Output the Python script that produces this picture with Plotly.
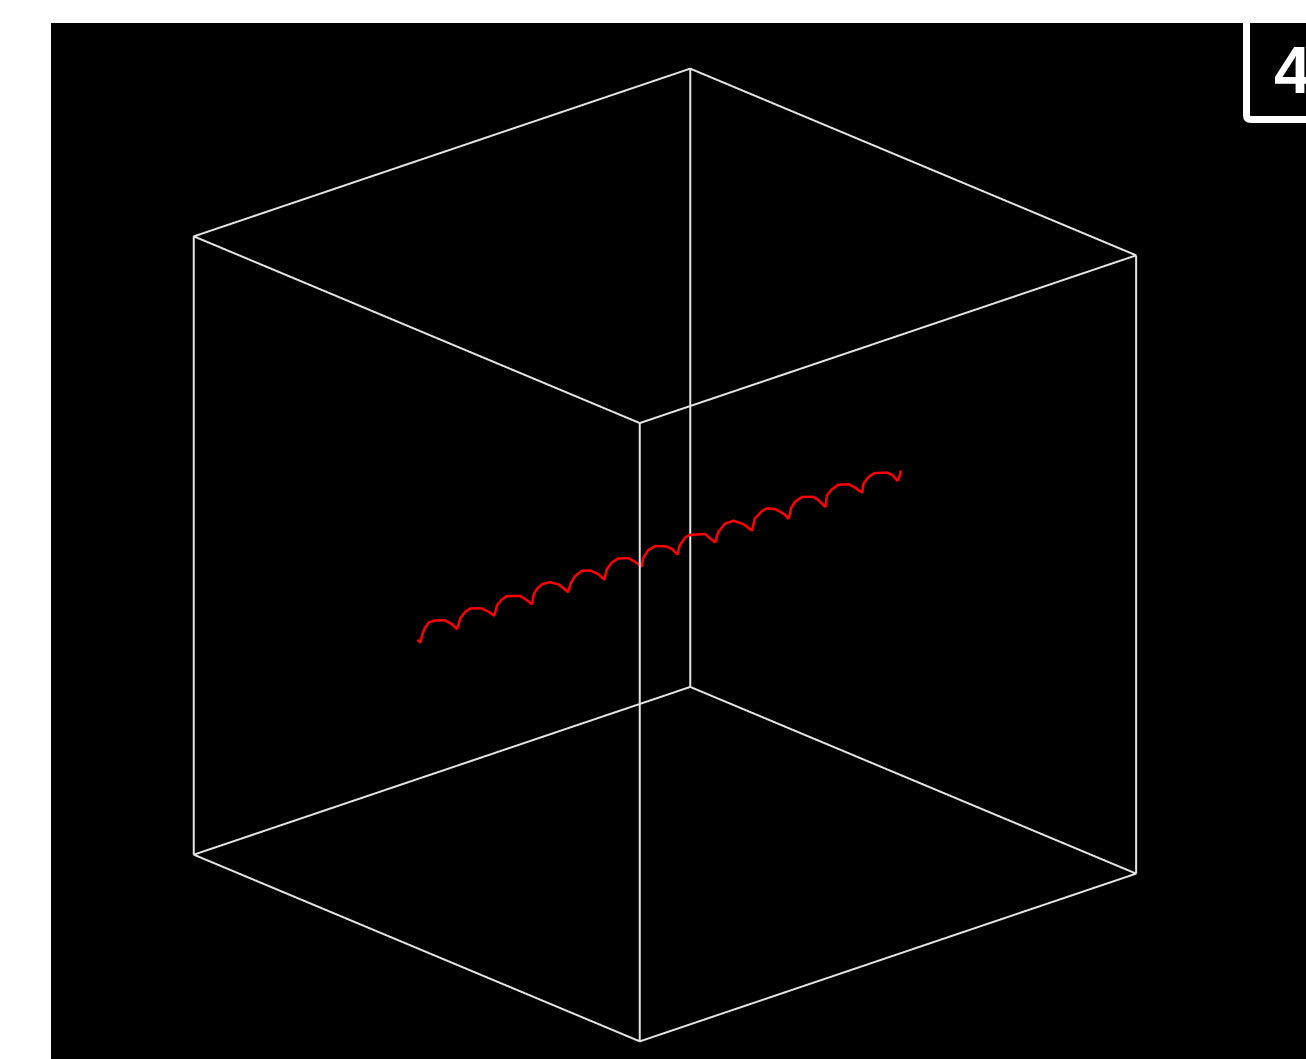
import plotly.graph_objects as go

WIDTH = 1306
HEIGHT = 1059

# wireframe box, None breaks the line between edges
cube_x = [0, 1, 1, 0, 0, 0, 1, 1, 0, 0, None, 1, 1, None, 1, 1, None, 0, 0]
cube_y = [0, 0, 1, 1, 0, 0, 0, 1, 1, 0, None, 0, 0, None, 1, 1, None, 1, 1]
cube_z = [1, 1, 1, 1, 1, 0, 0, 0, 0, 0, None, 1, 0, None, 1, 0, None, 1, 0]

# red curve
curve_y = [
    .001, .007, .011, .016, .024, .036, .056, .070, .081, .088, .097, .108,
    .130, .144, .156, .162, .171, .181, .208, .221, .232, .236, .243, .253,
    .268, .285, .295, .305, .310, .319, .332, .349, .366, .378, .382, .393,
    .406, .426, .440, .453, .456, .466, .480, .503, .514, .525, .530, .540,
    .550, .581, .591, .601, .607, .621, .638, .658, .675, .681, .695, .705,
    .722, .732, .740, .749, .754, .762, .776, .799, .809, .823, .826, .836,
    .849, .870, .883, .897, .900, .910, .922, .947, .958, .968, .972, .975,
]
curve_z = [
    .498, .492, .504, .513, .520, .520, .515, .505, .494, .510, .517, .520,
    .514, .505, .495, .511, .517, .520, .513, .503, .493, .509, .516, .520,
    .519, .511, .502, .493, .506, .515, .520, .516, .505, .493, .508, .517,
    .520, .515, .505, .494, .507, .517, .520, .513, .506, .494, .508, .517,
    .519, .512, .502, .493, .508, .518, .518, .507, .492, .510, .518, .520,
    .514, .507, .501, .491, .507, .515, .519, .513, .505, .490, .508, .515,
    .519, .514, .505, .493, .507, .515, .518, .512, .505, .493, .498, .508,
]
curve_x = [0.5] * len(curve_y)

badge_text = "4"

fig = go.Figure()
fig.add_trace(go.Scatter3d(
    x=cube_x, y=cube_y, z=cube_z,
    mode='lines', line=dict(color='#e4e4e4', width=4),
    hoverinfo='skip', connectgaps=False,
))
fig.add_trace(go.Scatter3d(
    x=curve_x, y=curve_y, z=curve_z,
    mode='lines', line=dict(color='#ff0000', width=5),
    hoverinfo='skip',
))

hidden = dict(visible=False, range=[0, 1], autorange=False)


def px(x):
    return x / WIDTH


def py(y):
    return 1 - y / HEIGHT


# badge outline is a stroke with a rounded lower-left corner
badge_path = (
    f"M {px(1246.5)},{py(16)} L {px(1246.5)},{py(115)} "
    f"Q {px(1246.5)},{py(119.5)} {px(1251)},{py(119.5)} L {px(1320)},{py(119.5)}"
)

fig.update_layout(
    width=WIDTH,
    height=HEIGHT,
    margin=dict(l=0, r=0, t=0, b=0),
    paper_bgcolor='white',
    showlegend=False,
    scene=dict(
        domain=dict(x=[px(51), px(1279)], y=[0, py(51)]),
        bgcolor='rgba(0,0,0,0)',
        aspectmode='manual',
        aspectratio=dict(x=1.324, y=1.324, z=1.324),
        xaxis=hidden,
        yaxis=hidden,
        zaxis=hidden,
        camera=dict(
            projection=dict(type='orthographic'),
            eye=dict(x=1.378, y=-1.238, z=0.752),
            up=dict(x=0, y=0, z=1),
            center=dict(x=0, y=0, z=0),
        ),
    ),
    shapes=[
        dict(
            type='rect', xref='paper', yref='paper', layer='below',
            x0=px(51), x1=1, y0=0, y1=py(23),
            fillcolor='black', line=dict(width=0),
        ),
        dict(
            type='path', xref='paper', yref='paper', layer='below',
            path=badge_path, line=dict(color='white', width=7),
        ),
    ],
    annotations=[
        dict(
            text=badge_text, showarrow=False,
            xref='paper', yref='paper',
            x=px(1272), y=py(70),
            xanchor='left', yanchor='middle',
            font=dict(family='Liberation Sans', size=66, color='white', weight='bold'),
        ),
    ],
)

fig.write_html(
    "out.html",
    config=dict(displayModeBar=False),
    post_script="document.body.style.margin='0';document.body.style.overflow='hidden';",
)
